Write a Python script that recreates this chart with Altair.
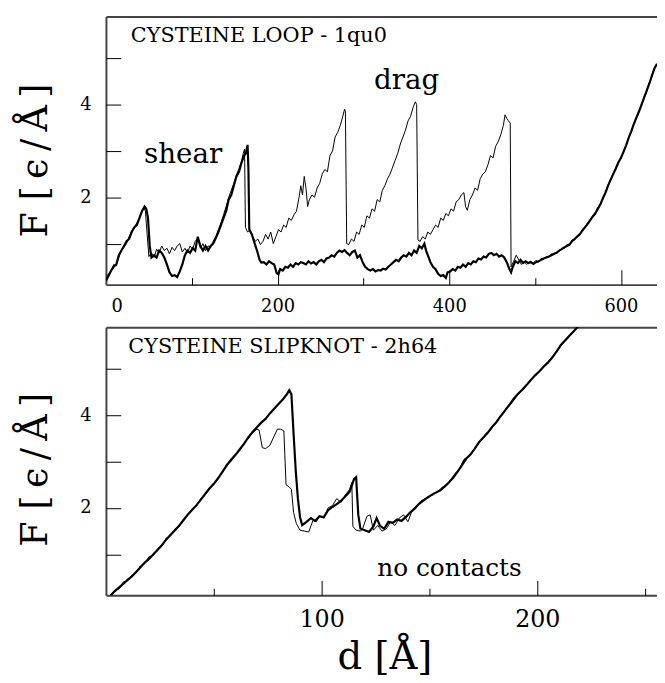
import altair as alt
import pandas as pd

# ---------------- data ----------------
# Top panel: cysteine loop 1qu0
TOP_THIN_X = [0, 3, 6, 9, 12, 15, 18, 21, 24, 27, 30, 33, 36, 39, 42, 44, 46, 48, 50, 53, 56, 59, 62, 65,
              68, 71, 74, 77, 80, 83, 86, 89, 92, 95, 98, 101, 104, 107, 110, 113, 116, 119, 122, 125, 128,
              131, 134, 137, 140, 143, 146, 149, 152, 155, 158, 160, 161.5, 162.5, 165, 168, 171, 174, 177,
              180, 183, 186, 189, 192, 195, 198, 201, 204, 207, 210, 213, 216, 219, 222, 225, 227, 229, 231,
              233, 235, 237, 240, 243, 246, 249, 252, 255, 258, 261, 264, 267, 270, 273, 276, 278, 279,
              280.5, 283, 286, 289, 292, 295, 298, 301, 304, 307, 310, 313, 316, 319, 322, 325, 328, 331,
              334, 337, 340, 343, 346, 349, 352, 355, 358, 360.5, 362, 363.5, 366, 369, 372, 375, 378, 381,
              384, 387, 390, 393, 396, 399, 402, 405, 408, 411, 414, 417, 419, 421, 424, 427, 430, 433, 436,
              439, 442, 445, 448, 451, 454, 457, 460, 463, 465, 467, 469, 471, 472, 475, 478, 481, 484, 487,
              490, 493, 495, 498, 501, 504, 507, 510, 513, 516, 519, 522, 525, 528, 531, 534, 537, 540, 543,
              546, 549, 552, 555, 558, 561, 564, 567, 570, 573, 576, 579, 582, 585, 588, 591, 594, 597, 600,
              603, 606, 609, 612, 615, 618, 621, 624, 627, 630, 633, 636, 639, 642]
TOP_THIN_Y = [0.25, 0.35, 0.40, 0.55, 0.52, 0.70, 0.85, 0.92, 1.00, 1.15, 1.28, 1.35, 1.45, 1.55, 1.72, 1.78,
              1.70, 1.20, 0.72, 0.80, 0.70, 0.88, 0.80, 0.95, 0.85, 0.90, 0.78, 0.92, 0.85, 0.95, 1.00, 0.82,
              0.90, 0.80, 0.95, 0.88, 1.05, 1.12, 0.90, 1.00, 0.85, 0.95, 0.92, 1.05, 1.15, 1.30, 1.45, 1.62,
              1.80, 2.00, 2.15, 2.30, 2.48, 2.62, 2.78, 2.95, 3.04, 1.35, 1.25, 1.30, 1.15, 1.05, 1.10, 0.98,
              1.05, 1.20, 1.10, 1.25, 1.00, 1.15, 1.30, 1.25, 1.40, 1.35, 1.55, 1.50, 1.62, 1.70, 2.00, 2.25,
              2.05, 2.45, 2.20, 1.80, 1.95, 2.05, 2.00, 2.20, 2.30, 2.50, 2.60, 2.55, 2.90, 3.00, 3.30, 3.40,
              3.55, 3.75, 3.90, 3.85, 1.00, 0.98, 1.10, 1.05, 1.25, 1.20, 1.40, 1.35, 1.60, 1.55, 1.75, 1.70,
              1.95, 1.90, 2.15, 2.25, 2.40, 2.50, 2.65, 2.80, 2.95, 3.15, 3.30, 3.45, 3.65, 3.75, 3.95, 4.06,
              4.00, 1.08, 1.05, 1.15, 1.10, 1.25, 1.20, 1.30, 1.40, 1.35, 1.55, 1.50, 1.65, 1.60, 1.75, 1.70,
              1.90, 1.95, 2.05, 2.10, 1.80, 1.72, 1.95, 2.05, 2.20, 2.15, 2.40, 2.50, 2.55, 2.70, 2.90, 2.85,
              3.10, 3.20, 3.35, 3.55, 3.78, 3.70, 3.65, 3.60, 0.50, 0.62, 0.75, 0.65, 0.55, 0.62, 0.55, 0.60,
              0.62, 0.58, 0.64, 0.60, 0.68, 0.66, 0.72, 0.70, 0.78, 0.76, 0.82, 0.83, 0.90, 0.90, 0.98, 0.96,
              1.08, 1.08, 1.17, 1.18, 1.30, 1.33, 1.45, 1.48, 1.60, 1.62, 1.78, 1.83, 2.00, 2.08, 2.27, 2.36,
              2.52, 2.60, 2.77, 2.83, 3.00, 3.10, 3.30, 3.40, 3.60, 3.70, 3.87, 3.98, 4.17, 4.28, 4.47, 4.60,
              4.80, 4.86]

TOP_THICK_X = [0, 3, 6, 9, 12, 15, 18, 21, 24, 27, 30, 33, 36, 39, 42, 45, 47, 49, 51, 53, 56, 59, 62, 65,
               68, 71, 74, 77, 80, 83, 86, 89, 92, 95, 98, 101, 104, 107, 110, 113, 116, 119, 122, 125, 128,
               131, 134, 137, 140, 143, 146, 149, 152, 155, 158, 161, 163, 165, 166, 167, 170, 173, 176, 179,
               181, 184, 187, 190, 193, 196, 199, 201, 203, 206, 209, 212, 215, 218, 221, 224, 227, 230, 233,
               236, 239, 242, 245, 248, 251, 254, 257, 260, 263, 266, 269, 272, 275, 278, 281, 284, 287, 290,
               293, 296, 299, 302, 305, 308, 311, 314, 317, 320, 323, 326, 329, 332, 335, 338, 341, 344, 347,
               350, 353, 356, 359, 362, 365, 368, 371, 373, 375, 378, 381, 384, 387, 390, 393, 396, 398, 401,
               404, 407, 410, 413, 416, 419, 422, 425, 428, 431, 434, 437, 440, 443, 446, 449, 452, 455, 458,
               461, 464, 467, 470, 472, 474, 477, 480, 483, 486, 489, 492, 495, 498, 501, 504, 507, 510, 513,
               516, 519, 522, 525, 528, 531, 534, 537, 540, 543, 546, 549, 552, 555, 558, 561, 564, 567, 570,
               573, 576, 579, 582, 585, 588, 591, 594, 597, 600, 603, 606, 609, 612, 615, 618, 621, 624, 627,
               630, 633, 636, 639, 642]
TOP_THICK_Y = [0.20, 0.30, 0.42, 0.50, 0.55, 0.75, 0.85, 0.95, 1.05, 1.10, 1.25, 1.35, 1.40, 1.55, 1.70,
               1.80, 1.75, 1.55, 0.95, 0.70, 0.75, 0.70, 0.85, 0.80, 0.70, 0.55, 0.38, 0.30, 0.32, 0.28, 0.40,
               0.55, 0.75, 0.85, 0.80, 0.90, 0.85, 1.15, 0.95, 0.85, 0.95, 0.85, 0.95, 1.00, 1.12, 1.25, 1.40,
               1.55, 1.70, 1.95, 2.05, 2.25, 2.45, 2.55, 2.75, 2.90, 2.95, 3.13, 2.60, 1.30, 1.20, 1.02, 0.85,
               0.65, 0.59, 0.60, 0.55, 0.62, 0.58, 0.55, 0.36, 0.34, 0.45, 0.42, 0.50, 0.48, 0.55, 0.50, 0.58,
               0.55, 0.60, 0.58, 0.55, 0.62, 0.57, 0.60, 0.55, 0.62, 0.65, 0.60, 0.68, 0.70, 0.75, 0.72, 0.80,
               0.85, 0.82, 0.86, 0.80, 0.75, 0.82, 0.85, 0.70, 0.75, 0.60, 0.50, 0.45, 0.42, 0.45, 0.40, 0.43,
               0.42, 0.46, 0.44, 0.50, 0.55, 0.60, 0.65, 0.62, 0.70, 0.75, 0.72, 0.80, 0.75, 0.85, 0.80, 0.95,
               0.90, 1.00, 0.85, 0.75, 0.60, 0.50, 0.45, 0.35, 0.30, 0.32, 0.26, 0.38, 0.40, 0.45, 0.42, 0.50,
               0.48, 0.55, 0.50, 0.58, 0.55, 0.62, 0.60, 0.68, 0.66, 0.72, 0.70, 0.78, 0.80, 0.75, 0.78, 0.72,
               0.75, 0.70, 0.60, 0.45, 0.38, 0.50, 0.62, 0.58, 0.65, 0.58, 0.62, 0.58, 0.60, 0.56, 0.60, 0.62,
               0.65, 0.68, 0.70, 0.72, 0.75, 0.78, 0.80, 0.85, 0.88, 0.92, 0.95, 0.98, 1.05, 1.10, 1.15, 1.20,
               1.28, 1.35, 1.42, 1.50, 1.58, 1.65, 1.75, 1.85, 1.98, 2.10, 2.25, 2.38, 2.50, 2.62, 2.75, 2.85,
               2.98, 3.12, 3.28, 3.42, 3.58, 3.72, 3.85, 4.00, 4.15, 4.30, 4.45, 4.62, 4.78, 4.88]

# Bottom panel: cysteine slipknot 2h64
BOT_THICK_X = [2, 4, 6, 8, 10, 12, 14, 16, 18, 20, 22, 24, 26, 28, 30, 32, 34, 36, 38, 40, 42, 44, 46, 48,
               50, 52, 54, 56, 58, 60, 62, 64, 66, 68, 70, 72, 74, 76, 78, 80, 82, 84, 85, 86, 87, 88, 89, 90,
               91, 93, 95, 97, 99, 101, 103, 105, 107, 109, 111, 113, 115, 116, 117, 118, 120, 122, 124, 125.5,
               127, 129, 131, 133, 135, 137, 139, 141, 143, 145, 147, 149, 151, 153, 155, 157, 159, 161, 163,
               165, 167, 169, 171, 173, 175, 177, 179, 181, 183, 185, 187, 189, 191, 193, 195, 197, 199, 201,
               203, 205, 207, 209, 211, 213, 215, 217, 219, 221]
BOT_THICK_Y = [0.10, 0.20, 0.28, 0.36, 0.45, 0.52, 0.62, 0.72, 0.82, 0.90, 1.00, 1.10, 1.20, 1.32, 1.42,
               1.52, 1.62, 1.74, 1.86, 1.96, 2.06, 2.18, 2.30, 2.42, 2.52, 2.64, 2.78, 2.92, 3.04, 3.14, 3.26,
               3.38, 3.52, 3.64, 3.74, 3.84, 3.92, 4.04, 4.14, 4.24, 4.34, 4.46, 4.54, 4.45, 3.60, 2.80, 2.20,
               1.80, 1.63, 1.70, 1.78, 1.72, 1.82, 1.80, 1.95, 2.02, 2.08, 2.15, 2.25, 2.35, 2.62, 2.66, 1.85,
               1.55, 1.52, 1.48, 1.60, 1.78, 1.62, 1.55, 1.70, 1.68, 1.75, 1.72, 1.80, 1.90, 1.98, 2.08, 2.15,
               2.22, 2.28, 2.33, 2.38, 2.46, 2.55, 2.65, 2.78, 2.92, 3.06, 3.15, 3.28, 3.42, 3.52, 3.62, 3.75,
               3.85, 3.98, 4.10, 4.22, 4.35, 4.46, 4.55, 4.65, 4.76, 4.86, 4.95, 5.05, 5.14, 5.25, 5.38, 5.52,
               5.62, 5.72, 5.82, 5.92, 6.05]

BOT_THIN_X = [2, 4, 6, 8, 10, 12, 14, 16, 18, 20, 22, 24, 26, 28, 30, 32, 34, 36, 38, 40, 42, 44, 46, 48, 50,
              52, 54, 56, 58, 60, 62, 64, 66, 68, 70, 71, 72.5, 74, 76, 78, 79.5, 81, 82.5, 83.5, 85, 86, 87,
              88.3, 90, 92, 94, 96, 97.5, 99, 101, 103, 105, 107, 109, 111, 113, 114, 114.5, 116, 118, 119,
              121, 122.5, 124, 126, 128, 130, 132, 134, 136, 138, 140, 142, 144, 146, 148, 150, 152, 154, 156,
              158, 160, 162, 164, 166, 168, 170, 172, 174, 176, 178, 180, 182, 184, 186, 188, 190, 192, 194,
              196, 198, 200, 202, 204, 206, 208, 210, 212, 214, 216, 218, 220, 222]
BOT_THIN_Y = [0.12, 0.22, 0.25, 0.40, 0.42, 0.55, 0.60, 0.75, 0.80, 0.95, 0.98, 1.12, 1.18, 1.35, 1.40, 1.55,
              1.60, 1.76, 1.84, 1.98, 2.04, 2.20, 2.28, 2.44, 2.50, 2.66, 2.76, 2.95, 3.00, 3.16, 3.24, 3.40,
              3.50, 3.62, 3.70, 3.68, 3.30, 3.28, 3.35, 3.55, 3.70, 3.70, 3.66, 2.50, 2.45, 2.40, 1.90, 1.66,
              1.52, 1.50, 1.48, 1.73, 1.70, 1.82, 1.78, 2.00, 2.05, 2.20, 2.12, 2.28, 2.40, 2.55, 1.60, 1.52,
              1.50, 1.55, 1.82, 1.85, 1.52, 1.62, 1.50, 1.55, 1.70, 1.62, 1.78, 1.85, 1.70, 1.95, 2.05, 2.15,
              2.20, 2.25, 2.32, 2.35, 2.45, 2.50, 2.62, 2.75, 2.85, 3.05, 3.10, 3.22, 3.35, 3.45, 3.60, 3.66,
              3.78, 3.92, 4.02, 4.18, 4.25, 4.38, 4.50, 4.58, 4.72, 4.80, 4.92, 5.00, 5.10, 5.18, 5.32, 5.45,
              5.55, 5.68, 5.76, 5.88, 5.98, 6.10]

# axis values
TOP_X_LABELS = [0, 200, 400, 600]
TOP_X_MAJOR = [200, 400, 600]
TOP_X_MINOR = [100, 300, 500]
BOT_X_LABELS = [100, 200]
BOT_X_MAJOR = [100, 200]
BOT_X_MINOR = [50, 150, 250]
Y_LABELS = [2, 4]
Y_TICKS = [1, 2, 3, 4, 5]

# annotations
TOP_TITLE = ["CYSTEINE LOOP - 1qu0"]
TOP_TITLE_POS = (29, 5.36)
TOP_NOTES = ["shear", "drag"]
TOP_NOTES_X = [44.4, 312.2]
TOP_NOTES_Y = [2.75, 4.34]
BOT_TITLE = ["CYSTEINE SLIPKNOT - 2h64"]
BOT_TITLE_POS = (10.4, 5.34)
BOT_NOTES = ["no contacts"]
BOT_NOTES_X = [125.8]
BOT_NOTES_Y = [0.53]

Y_TITLE = "F  [\u2009ϵ\u2009/\u2009Å\u2009]"
X_TITLE = "d  [Å]"

# ---------------- chart ----------------
SERIF = "DejaVu Serif"
W = 557
H = 271
DOM = "#444444"
YDOM = [0.115, 5.9]


def panel(thin_x, thin_y, thick_x, thick_y, xdom, xlabels, xmajor, xminor, title_text, title_pos,
          notes, notes_x, notes_y, notes_size, xlabel_size, xtitle, ytitle_y, flush):
    thin = pd.DataFrame({"d": thin_x, "F": thin_y})
    thick = pd.DataFrame({"d": thick_x, "F": thick_y})
    ttl = pd.DataFrame({"d": [title_pos[0]], "F": [title_pos[1]], "t": title_text})
    nts = pd.DataFrame({"d": notes_x, "F": notes_y, "t": notes})

    xs = alt.Scale(domain=xdom, nice=False, zero=False)
    ys = alt.Scale(domain=YDOM, nice=False, zero=False)

    xaxis_kw = dict(orient="bottom", values=xlabels, ticks=False, domain=True, domainColor=DOM,
                    domainWidth=2, labelFont=SERIF, labelFontSize=xlabel_size, labelColor="black",
                    labelPadding=13, grid=False)
    if flush:
        xaxis_kw.update(labelFlush=True, labelFlushOffset=-5)
    if xtitle:
        xaxis_kw.update(title=xtitle, titleFont=SERIF, titleFontSize=39, titleFontWeight="normal",
                        titleColor="black", titleBaseline="alphabetic", titleY=74, titleX=W / 2 + 3)
    else:
        xaxis_kw.update(title=None)
    x_lab = alt.Axis(**xaxis_kw)
    y_lab = alt.Axis(orient="left", values=Y_LABELS, ticks=False, domain=True, domainColor=DOM,
                     domainWidth=2, labelFont=SERIF, labelFontSize=18, labelColor="black",
                     labelPadding=15, grid=False, title=Y_TITLE, titleFont=SERIF, titleFontSize=37,
                     titleFontWeight="normal", titleColor="black", titleAngle=270, titleAlign="center",
                     titleBaseline="alphabetic", titleX=-60, titleY=ytitle_y)

    x_major = alt.Axis(orient="top", offset=-H, values=xmajor, ticks=True, tickSize=15, tickColor="black",
                       tickWidth=1, labels=False, domain=False, grid=False, title=None)
    y_ticks = alt.Axis(orient="right", offset=-W, values=Y_TICKS, ticks=True, tickSize=15,
                       tickColor="black", tickWidth=1, labels=False, domain=False, grid=False, title=None)
    x_minor = alt.Axis(orient="top", offset=-H, values=xminor, ticks=True, tickSize=7, tickColor="black",
                       tickWidth=1, labels=False, domain=False, grid=False, title=None)
    x_top = alt.Axis(orient="top", ticks=False, labels=False, domain=True, domainColor=DOM, domainWidth=2,
                     grid=False, title=None)

    l1 = alt.Chart(thin).mark_line(color="black", strokeWidth=1, clip=True).encode(
        x=alt.X("d:Q", scale=xs, axis=x_lab), y=alt.Y("F:Q", scale=ys, axis=y_lab), order="d:Q")
    l2 = alt.Chart(thick).mark_line(color="black", strokeWidth=2.2, clip=True).encode(
        x=alt.X("d:Q", scale=xs, axis=x_major), y=alt.Y("F:Q", scale=ys, axis=y_ticks), order="d:Q")
    l3 = alt.Chart(nts).mark_text(align="left", baseline="alphabetic", font=SERIF, fontSize=notes_size,
                                  color="black").encode(
        x=alt.X("d:Q", scale=xs, axis=x_minor), y=alt.Y("F:Q", scale=ys, axis=None), text="t:N")
    l4 = alt.Chart(ttl).mark_text(align="left", baseline="alphabetic", font=SERIF, fontSize=21,
                                  color="black").encode(
        x=alt.X("d:Q", scale=xs, axis=x_top), y=alt.Y("F:Q", scale=ys, axis=None), text="t:N")
    return alt.layer(l1, l2, l3, l4).properties(width=W, height=H).resolve_axis(
        x="independent", y="independent")


top = panel(TOP_THIN_X, TOP_THIN_Y, TOP_THICK_X, TOP_THICK_Y, [0, 642], TOP_X_LABELS, TOP_X_MAJOR,
            TOP_X_MINOR, TOP_TITLE, TOP_TITLE_POS, TOP_NOTES, TOP_NOTES_X, TOP_NOTES_Y, 28, 18, None,
            145, True)
bottom = panel(BOT_THIN_X, BOT_THIN_Y, BOT_THICK_X, BOT_THICK_Y, [0, 255.5], BOT_X_LABELS, BOT_X_MAJOR,
               BOT_X_MINOR, BOT_TITLE, BOT_TITLE_POS, BOT_NOTES, BOT_NOTES_X, BOT_NOTES_Y, 25, 24, X_TITLE,
               143.5, False)

chart = alt.vconcat(top, bottom, spacing=43, bounds="flush").properties(
    padding={"left": 9, "top": 5, "right": 0, "bottom": 0}
).configure_view(stroke=None)

chart.save("out.html", embed_options={"renderer": "svg", "actions": False})
